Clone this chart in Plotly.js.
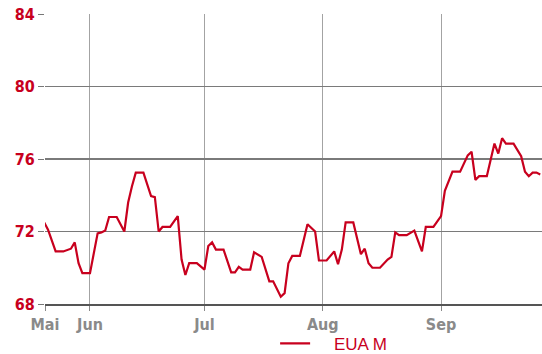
<!DOCTYPE html>
<html>
<head>
<meta charset="utf-8">
<script src="https://cdn.plot.ly/plotly-3.0.1.min.js"></script>
<style>
  html, body { margin: 0; padding: 0; background: #fff; }
  #chart { width: 542px; height: 354px; }
</style>
</head>
<body>
<div id="chart"></div>
<script>
// EUA M daily settlement prices, May to September
const dates = [
  '2024-05-20','2024-05-21','2024-05-23','2024-05-25','2024-05-27','2024-05-28','2024-05-29','2024-05-30',
  '2024-06-01','2024-06-03','2024-06-04','2024-06-05','2024-06-06','2024-06-08','2024-06-10','2024-06-11',
  '2024-06-12','2024-06-13','2024-06-15','2024-06-17','2024-06-18','2024-06-19','2024-06-20','2024-06-22',
  '2024-06-24','2024-06-25','2024-06-26','2024-06-27','2024-06-29',
  '2024-07-01','2024-07-02','2024-07-03','2024-07-04','2024-07-06','2024-07-08','2024-07-09','2024-07-10',
  '2024-07-11','2024-07-13','2024-07-14','2024-07-16','2024-07-18','2024-07-19','2024-07-21','2024-07-22',
  '2024-07-23','2024-07-24','2024-07-26','2024-07-28','2024-07-30','2024-07-31',
  '2024-08-02','2024-08-04','2024-08-05','2024-08-06','2024-08-07','2024-08-09','2024-08-11','2024-08-12',
  '2024-08-13','2024-08-14','2024-08-16','2024-08-18','2024-08-19','2024-08-20','2024-08-21','2024-08-23',
  '2024-08-25','2024-08-27','2024-08-28','2024-08-30',
  '2024-09-01','2024-09-02','2024-09-04','2024-09-06','2024-09-08','2024-09-09','2024-09-10','2024-09-11',
  '2024-09-13','2024-09-15','2024-09-16','2024-09-17','2024-09-18','2024-09-20','2024-09-22','2024-09-23',
  '2024-09-24','2024-09-25','2024-09-26','2024-09-27'
];
const prices = [
  72.5, 72.1, 70.9, 70.9, 71.05, 71.4, 70.25, 69.7,
  69.7, 71.9, 71.95, 72.05, 72.8, 72.8, 72.0, 73.6,
  74.5, 75.25, 75.25, 73.95, 73.9, 72.0, 72.25, 72.25,
  72.85, 70.45, 69.6, 70.25, 70.25,
  69.9, 71.2, 71.4, 71.0, 71.0, 69.75, 69.75, 70.05,
  69.9, 69.9, 70.85, 70.6, 69.25, 69.25, 68.4, 68.6,
  70.25, 70.65, 70.65, 72.4, 72.0, 70.4,
  70.4, 70.9, 70.2, 71.0, 72.5, 72.5, 70.75, 71.05,
  70.25, 70.0, 70.0, 70.45, 70.6, 71.95, 71.8, 71.8,
  72.05, 70.9, 72.25, 72.25,
  72.85, 74.25, 75.3, 75.3, 76.2, 76.4, 74.85, 75.05,
  75.05, 76.85, 76.3, 77.15, 76.85, 76.85, 76.15, 75.3,
  75.05, 75.25, 75.25, 75.15
];
const seriesName = 'EUA M';

// month ticks along the time axis
const monthTickVals = ['2024-05-20 05:00', '2024-06-01', '2024-07-01', '2024-08-01', '2024-09-01'];
const monthTickText = ['Mai', 'Jun', 'Jul', 'Aug', 'Sep'];
const priceTicks = [68, 72, 76, 80, 84];

const RED = '#c8001e';
const NARROW = '"Liberation Sans Narrow", "DejaVu Sans Condensed", Arial, sans-serif';

const trace = {
  type: 'scatter',
  mode: 'lines',
  x: dates,
  y: prices,
  name: '\u00a0\u00a0\u00a0\u00a0' + seriesName,
  line: { color: RED, width: 2.2 },
  hoverinfo: 'x+y'
};

const layout = {
  width: 542,
  height: 354,
  margin: { l: 45, r: 0, t: 14, b: 50, autoexpand: false },
  paper_bgcolor: '#ffffff',
  plot_bgcolor: '#ffffff',
  showlegend: true,
  legend: {
    orientation: 'h',
    x: 0.463, xanchor: 'left',
    y: -0.137, yanchor: 'middle',
    font: { family: '"Liberation Sans", Arial, sans-serif', size: 17, color: RED },
    bgcolor: 'rgba(0,0,0,0)'
  },
  xaxis: {
    type: 'date',
    range: ['2024-05-20 05:00', '2024-09-27 11:00'],
    tickmode: 'array',
    tickvals: monthTickVals,
    ticktext: monthTickText,
    showgrid: true,
    gridcolor: '#a3a3a3',
    gridwidth: 1,
    ticks: 'outside',
    ticklen: 5,
    tickcolor: '#8a8a8a',
    showline: true,
    linecolor: '#555555',
    linewidth: 1.5,
    zeroline: false,
    tickfont: { family: NARROW, size: 16, color: '#8a8a8a', weight: 'bold' }
  },
  yaxis: {
    range: [68, 84],
    tickmode: 'array',
    tickvals: priceTicks,
    showgrid: true,
    gridcolor: '#7a7a7a',
    gridwidth: 1.2,
    ticks: 'outside',
    ticklen: 6,
    tickcolor: '#777777',
    showline: false,
    zeroline: false,
    tickfont: { family: NARROW, size: 16, color: RED, weight: 'bold' }
  }
};

Plotly.newPlot('chart', [trace], layout, { displayModeBar: false, staticPlot: true });
</script>
</body>
</html>
